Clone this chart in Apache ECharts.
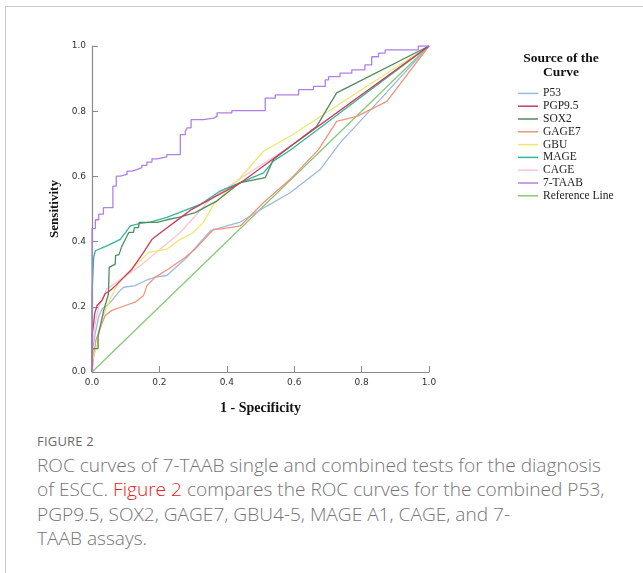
<!DOCTYPE html>
<html>
<head>
<meta charset="utf-8">
<script src="https://cdn.jsdelivr.net/npm/echarts@6/dist/echarts.min.js"></script>
<style>
  body { margin: 0; width: 643px; height: 573px; overflow: hidden; background: #fff; }
  #frame { position: absolute; left: 5px; top: 6px; right: 0; bottom: 0; border-left: 1px solid #cacaca; border-top: 1px solid #cacaca; }
  #chart { position: absolute; left: 0; top: 0; width: 643px; height: 420px; }
  #caption { position: absolute; left: 37px; top: 432px; width: 600px; font-family: "Open Sans", sans-serif; color: #747474; }
  #caption .fig { font-size: 13px; line-height: 18px; letter-spacing: 0.2px; color: #6a6a6a; }
  #caption .txt { font-size: 19.1px; font-weight: 300; line-height: 24.4px; margin-top: 3px; }
  #caption .ref { color: #e2231a; }
</style>
</head>
<body>
<div id="frame"></div>
<div id="chart"></div>
<div id="caption">
  <div class="fig">FIGURE 2</div>
  <div class="txt">ROC curves of 7-TAAB single and combined tests for the diagnosis<br>of ESCC. <span class="ref">Figure 2</span> compares the ROC curves for the combined P53,<br>PGP9.5, SOX2, GAGE7, GBU4-5, MAGE A1, CAGE, and 7-<br>TAAB assays.</div>
</div>
<script>
// [1 - specificity, sensitivity]
var p53 = [[0,0],[0,0.06],[0.01,0.12],[0.02,0.17],[0.03,0.194],[0.045,0.205],[0.059,0.219],[0.079,0.245],[0.094,0.26],[0.128,0.265],[0.158,0.28],[0.188,0.291],[0.222,0.296],[0.282,0.352],[0.351,0.433],[0.40,0.448],[0.44,0.46],[0.519,0.509],[0.588,0.55],[0.677,0.621],[0.736,0.703],[0.85,0.83],[1,1]];
var pgp95 = [[0,0],[0,0.112],[0.005,0.15],[0.008,0.179],[0.015,0.204],[0.03,0.22],[0.039,0.24],[0.054,0.25],[0.07,0.265],[0.089,0.285],[0.119,0.316],[0.153,0.367],[0.178,0.407],[0.217,0.438],[0.257,0.469],[0.296,0.499],[0.44,0.58],[0.588,0.692],[1,1]];
var sox2 = [[0,0],[0.002,0.072],[0.018,0.072],[0.018,0.112],[0.025,0.143],[0.035,0.19],[0.049,0.24],[0.051,0.321],[0.069,0.331],[0.07,0.357],[0.08,0.36],[0.089,0.387],[0.099,0.407],[0.109,0.428],[0.123,0.428],[0.126,0.443],[0.138,0.443],[0.14,0.459],[0.193,0.459],[0.222,0.467],[0.26,0.475],[0.306,0.489],[0.371,0.525],[0.44,0.581],[0.514,0.596],[0.538,0.652],[0.667,0.754],[0.726,0.856],[1,1]];
var gage7 = [[0,0],[0.005,0.05],[0.012,0.1],[0.02,0.12],[0.03,0.15],[0.039,0.173],[0.059,0.189],[0.099,0.204],[0.128,0.214],[0.153,0.235],[0.163,0.265],[0.188,0.291],[0.227,0.316],[0.277,0.352],[0.306,0.377],[0.361,0.438],[0.38,0.438],[0.44,0.448],[0.509,0.52],[0.588,0.591],[0.672,0.682],[0.726,0.769],[0.786,0.784],[0.875,0.83],[1,1]];
var gbu = [[0,0],[0,0.03],[0.015,0.082],[0.02,0.12],[0.03,0.163],[0.04,0.19],[0.054,0.224],[0.079,0.275],[0.099,0.296],[0.123,0.321],[0.143,0.341],[0.168,0.367],[0.222,0.377],[0.262,0.407],[0.301,0.428],[0.331,0.459],[0.361,0.514],[0.44,0.596],[0.509,0.677],[0.588,0.723],[0.731,0.82],[1,1]];
var mage = [[0,0],[0,0.24],[0.005,0.352],[0.01,0.372],[0.044,0.387],[0.084,0.407],[0.114,0.448],[0.143,0.456],[0.173,0.46],[0.222,0.474],[0.272,0.494],[0.321,0.514],[0.38,0.555],[0.509,0.611],[0.538,0.647],[0.588,0.68],[1,1]];
var cage = [[0,0],[0,0.08],[0.01,0.15],[0.02,0.2],[0.044,0.255],[0.143,0.326],[0.262,0.428],[0.351,0.53],[0.45,0.6],[0.6,0.7],[1,1]];
// 7-TAAB is a staircase, points are the top of each riser
var taab7 = [[0,0],[0,0.44],[0.01,0.467],[0.02,0.484],[0.034,0.504],[0.062,0.57],[0.072,0.601],[0.084,0.606],[0.104,0.616],[0.119,0.621],[0.133,0.627],[0.148,0.634],[0.163,0.644],[0.178,0.654],[0.193,0.66],[0.222,0.667],[0.262,0.728],[0.277,0.738],[0.282,0.749],[0.294,0.774],[0.331,0.779],[0.361,0.784],[0.371,0.795],[0.415,0.802],[0.514,0.84],[0.544,0.85],[0.613,0.866],[0.657,0.876],[0.692,0.896],[0.702,0.906],[0.736,0.917],[0.771,0.927],[0.81,0.942],[0.83,0.967],[0.85,0.978],[0.87,0.988],[0.968,1.0],[1,1]];
var refLine = [[0,0],[1,1]];

var names = ['P53', 'PGP9.5', 'SOX2', 'GAGE7', 'GBU', 'MAGE', 'CAGE', '7-TAAB', 'Reference Line'];
var colors = ['#9bbbe0', '#c83c5a', '#4f8c5c', '#f0947c', '#ece870', '#34b49a', '#f8c6d6', '#ae80e6', '#88c878'];
var curves = [p53, pgp95, sox2, gage7, gbu, mage, cage, taab7, refLine];

var series = [];
// draw reference line first so it sits below
var order = [8, 0, 3, 6, 4, 5, 2, 1, 7];
order.forEach(function (i) {
  series.push({
    name: names[i],
    type: 'line',
    data: curves[i],
    step: i === 7 ? 'end' : false,
    symbol: 'none',
    z: i === 7 ? 5 : 2,
    lineStyle: { color: colors[i], width: 1.3 },
    itemStyle: { color: colors[i] }
  });
});

var axisCommon = {
  type: 'value',
  min: 0,
  max: 1,
  interval: 0.2,
  splitLine: { show: false },
  axisLine: { show: true, lineStyle: { color: '#8a8a8a', width: 1.2 } },
  axisTick: { show: true, inside: true, length: 6, lineStyle: { color: '#8a8a8a' } },
  axisLabel: { color: '#333', fontSize: 9, fontFamily: 'DejaVu Sans', margin: 6, formatter: function (v) { return v.toFixed(1); } },
  nameLocation: 'middle',
  nameTextStyle: { fontFamily: 'Liberation Serif', fontWeight: 'bold', fontSize: 13, color: '#111' }
};

var option = {
  animation: false,
  grid: { left: 92, top: 46, width: 337, height: 327.5 },
  xAxis: Object.assign({}, axisCommon, {
    name: '1 - Specificity', nameGap: 29,
    nameTextStyle: Object.assign({}, axisCommon.nameTextStyle, { fontSize: 14 })
  }),
  yAxis: Object.assign({}, axisCommon, { name: 'Sensitivity', nameGap: 28 }),
  legend: {
    orient: 'vertical',
    left: 513,
    top: 82,
    icon: 'rect',
    itemWidth: 20,
    itemHeight: 1.5,
    itemGap: 0,
    data: names,
    selectedMode: false,
    textStyle: { fontFamily: 'Liberation Serif', fontSize: 11.5, color: '#222', lineHeight: 12.8 }
  },
  graphic: [{
    type: 'text',
    x: 561,
    y: 51,
    style: {
      text: 'Source of the\nCurve',
      align: 'center',
      font: 'bold 13.5px "Liberation Serif"',
      fill: '#111',
      lineHeight: 14.5
    }
  }],
  series: series
};

var chart = echarts.init(document.getElementById('chart'));
chart.setOption(option);
</script>
</body>
</html>
